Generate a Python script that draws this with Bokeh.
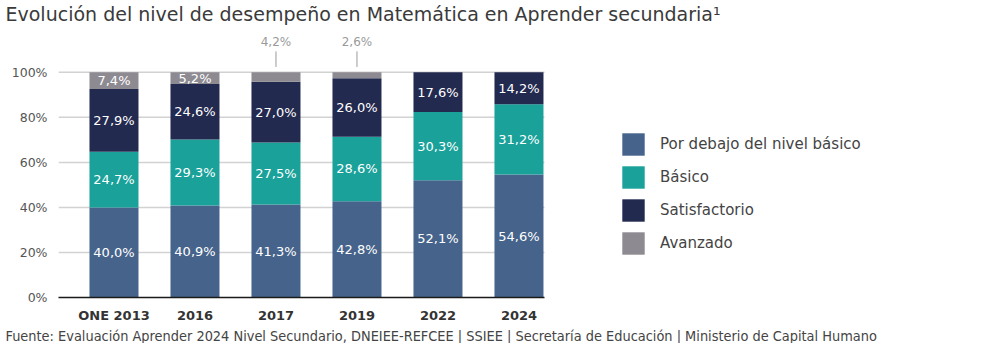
from bokeh.plotting import figure
from bokeh.models import (ColumnDataSource, FixedTicker, Legend, LegendItem, Title, Range1d)
from bokeh.core.properties import value
from bokeh.embed import file_html
from bokeh.resources import INLINE

# ---- data ----
categories = ["ONE 2013", "2016", "2017", "2019", "2022", "2024"]
por_debajo = [40.0, 40.9, 41.3, 42.8, 52.1, 54.6]
basico = [24.7, 29.3, 27.5, 28.6, 30.3, 31.2]
satisfactorio = [27.9, 24.6, 27.0, 26.0, 17.6, 14.2]
avanzado = [7.4, 5.2, 4.2, 2.6, 0.0, 0.0]
series_names = ["Por debajo del nivel básico", "Básico", "Satisfactorio", "Avanzado"]
y_ticks = [0, 20, 40, 60, 80, 100]
title_text = "Evolución del nivel de desempeño en Matemática en Aprender secundaria\u00b9"
footer_text = ("Fuente: Evaluación Aprender 2024 Nivel Secundario, DNEIEE-REFCEE | SSIEE | "
               "Secretaría de Educación | Ministerio de Capital Humano")

colors = ["#46648b", "#19a19a", "#232a4f", "#8d8a91"]
FONT = "DejaVu Sans"

xs = list(range(len(categories)))
X_START, X_END = -0.685, 10.809
BAR_RIGHT = 5.315

p = figure(width=989, height=343, output_backend="svg", toolbar_location=None,
           x_range=Range1d(X_START, X_END), y_range=Range1d(0, 120.8),
           min_border_left=58, min_border_right=0, min_border_top=25, min_border_bottom=45)
p.outline_line_color = None
p.xgrid.visible = False
p.ygrid.visible = False
p.background_fill_color = "white"

# title
p.title.text = title_text
p.title.align = "left"
p.title.offset = -53
p.title.standoff = 0
p.title.vertical_align = "middle"
p.title.text_font = FONT
p.title.text_font_size = "19px"
p.title.text_font_style = "normal"
p.title.text_color = "#3a3a3a"

# gridlines (drawn under bars)
p.segment(x0=[X_START] * (len(y_ticks) - 1), x1=[BAR_RIGHT] * (len(y_ticks) - 1),
          y0=y_ticks[1:], y1=y_ticks[1:], line_color="#d2d2d2", line_width=1.5)

src = ColumnDataSource(dict(x=xs, por=por_debajo, bas=basico, sat=satisfactorio, ava=avanzado))
rends = p.vbar_stack(["por", "bas", "sat", "ava"], x="x", width=0.605, source=src,
                     color=colors, line_color=None)

legend = Legend(items=[LegendItem(label=n, renderers=[r]) for n, r in zip(series_names, rends)],
                location=(561, 40), glyph_width=28, glyph_height=28, spacing=5,
                padding=0, margin=0, border_line_color=None, background_fill_alpha=0,
                label_standoff=13, label_text_font=FONT, label_text_font_size="15px",
                label_text_color="#444444")
p.add_layout(legend)

# labels inside bars / callouts for small values
lx, ly, lt = [], [], []
ox, ot = [], []
for i in xs:
    bottom = 0.0
    for vals in [por_debajo, basico, satisfactorio, avanzado]:
        v = vals[i]
        if v > 0:
            txt = f"{v:.1f}".replace(".", ",") + "%"
            if v >= 5:
                lx.append(i); ly.append(bottom + v / 2); lt.append(txt)
            else:
                ox.append(i); ot.append(txt)
        bottom += v

p.text(x=lx, y=ly, text=lt, text_color="white", text_font=value(FONT),
       text_font_size="13px", text_align="center", text_baseline="middle")

p.text(x=ox, y=[113.3] * len(ox), text=ot, text_color="#9a9a9a", text_font=value(FONT),
       text_font_size="12px", text_align="center", text_baseline="middle")
p.segment(x0=ox, x1=ox, y0=[102.4] * len(ox), y1=[109.3] * len(ox),
          line_color="#9a9a9a", line_width=1)

# axes
p.yaxis.ticker = FixedTicker(ticks=y_ticks)
p.yaxis.major_label_overrides = {t: f"{t}%" for t in y_ticks}
p.yaxis.axis_line_color = None
p.yaxis.major_tick_line_color = None
p.yaxis.minor_tick_line_color = None
p.yaxis.major_label_standoff = 5
p.yaxis.major_label_text_font = FONT
p.yaxis.major_label_text_font_size = "12.5px"
p.yaxis.major_label_text_color = "#555555"

p.xaxis.ticker = FixedTicker(ticks=xs)
p.xaxis.major_label_overrides = {i: c for i, c in zip(xs, categories)}
p.xaxis.bounds = (X_START, BAR_RIGHT)
p.xaxis.axis_line_color = "#1a1a1a"
p.xaxis.axis_line_width = 1.5
p.xaxis.major_tick_line_color = None
p.xaxis.minor_tick_line_color = None
p.xaxis.major_label_standoff = 4
p.xaxis.major_label_text_font = FONT
p.xaxis.major_label_text_font_style = "bold"
p.xaxis.major_label_text_font_size = "13px"
p.xaxis.major_label_text_color = "#333333"

# footer
p.add_layout(Title(text=footer_text, align="left", offset=-53, standoff=0,
                   text_font="DejaVu Sans Condensed", text_font_size="14.4px",
                   text_line_height=0.9,
                   text_font_style="normal", text_color="#444444"), "below")

open("out.html", "w").write(file_html(p, INLINE))
